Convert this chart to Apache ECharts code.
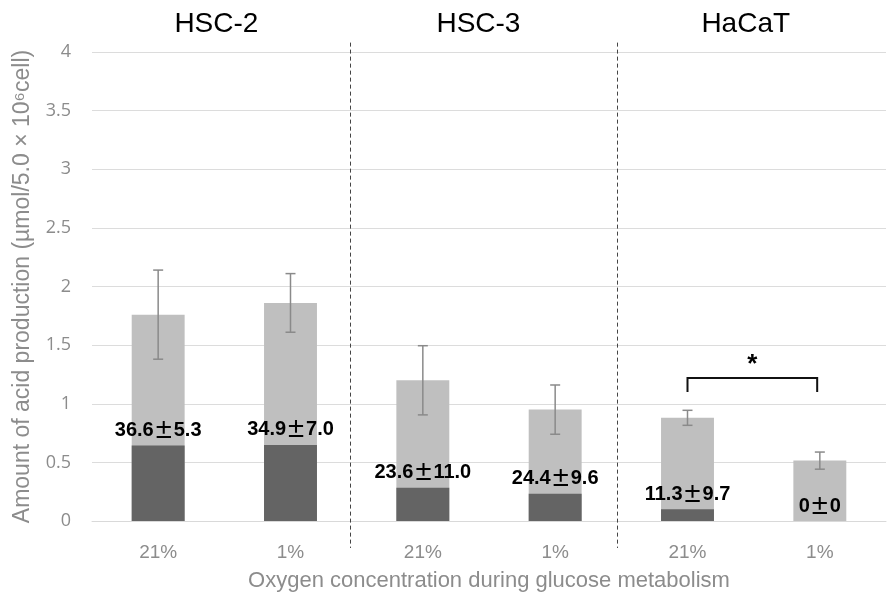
<!DOCTYPE html>
<html>
<head>
<meta charset="utf-8">
<script src="https://cdn.jsdelivr.net/npm/echarts@6/dist/echarts.min.js"></script>
<style>
  html, body { margin: 0; padding: 0; background: #ffffff; }
  #chart { width: 889px; height: 598px; }
</style>
</head>
<body>
<div id="chart"></div>
<script>
// Oxygen concentration per bar, grouped by cell line (two bars per line)
const categories = ['21%', '1%', '21%', '1%', '21%', '1%'];
const cellLines = ['HSC-2', 'HSC-3', 'HaCaT'];

// Total acid production (µmol / 5.0×10^6 cells) and its SD
const totalAcid = [1.76, 1.86, 1.20, 0.95, 0.88, 0.515];
const totalSD = [0.38, 0.25, 0.295, 0.21, 0.064, 0.073];

// Share of the total that is lactate (%) and its SD
const lactatePct = [36.6, 34.9, 23.6, 24.4, 11.3, 0];
const lactatePctSD = [5.3, 7.0, 11.0, 9.6, 9.7, 0];

// y axis ticks
const yTicks = [0, 0.5, 1, 1.5, 2, 2.5, 3, 3.5, 4];

// Lactate part of each bar, derived from the stated percentage
const lactateAcid = totalAcid.map((t, i) => t * lactatePct[i] / 100);

const pctLabel = (i) => lactatePct[i] === 0
  ? '{n|0}{pm|±}{n|0}'
  : '{n|' + lactatePct[i].toFixed(1) + '}{pm|±}{n|' + lactatePctSD[i].toFixed(1) + '}';

// Layout helpers (positions on the hidden index axis, -0.5 .. 5.5)
const groupTitleX = [0.44, 2.42, 4.44];
const separatorX = [1.45, 3.47];
const bracket = { from: 4, to: 4.98, top: 1.22, leg: 1.1, star: 1.33 };

const GRAY_TEXT = '#8c8c8c';
const chart = echarts.init(document.getElementById('chart'));

chart.setOption({
  animation: false,
  backgroundColor: '#ffffff',
  grid: { left: 92, right: 3, top: 52, bottom: 77, outerBoundsMode: 'none', containLabel: false },
  xAxis: [
    {
      type: 'category',
      data: categories,
      axisLine: { show: true, lineStyle: { color: '#d9d9d9', width: 1 } },
      axisTick: { show: false },
      axisLabel: { fontSize: 19, color: GRAY_TEXT, margin: 22, fontFamily: 'Liberation Sans' },
      name: 'Oxygen concentration during glucose metabolism',
      nameLocation: 'middle',
      nameGap: 49,
      nameTextStyle: { fontSize: 22, color: GRAY_TEXT, fontFamily: 'Liberation Sans' }
    },
    {
      type: 'value', min: -0.5, max: 5.5, show: false,
      splitLine: { show: false }
    }
  ],
  yAxis: {
    type: 'value',
    min: yTicks[0],
    max: yTicks[yTicks.length - 1],
    interval: yTicks[1] - yTicks[0],
    axisLine: { show: false },
    axisTick: { show: false },
    splitLine: { lineStyle: { color: '#dcdcdc', width: 1 } },
    axisLabel: { fontSize: 18, color: GRAY_TEXT, margin: 21, fontFamily: 'Open Sans' },
    name: 'Amount of acid production (µmol/5.0 × 10⁶cell)',
    nameLocation: 'middle',
    nameGap: 58,
    nameTextStyle: { fontSize: 23, color: GRAY_TEXT, fontFamily: 'Liberation Sans' }
  },
  series: [
    {
      name: 'Total acid',
      type: 'bar',
      data: totalAcid,
      barWidth: '40%',
      itemStyle: { color: '#bfbfbf' },
      z: 2
    },
    {
      name: 'Lactic acid',
      type: 'bar',
      data: lactateAcid,
      barWidth: '40%',
      barGap: '-100%',
      itemStyle: { color: '#646464' },
      z: 3,
      label: {
        show: true,
        position: 'top',
        distance: 5,
        color: '#000000',
        formatter: (p) => pctLabel(p.dataIndex),
        rich: {
          n: { fontSize: 20, fontWeight: 'bold', fontFamily: 'Liberation Sans', color: '#000000' },
          pm: { fontSize: 20, fontWeight: 'bold', fontFamily: 'Noto Sans CJK JP', color: '#000000' }
        }
      }
    },
    {
      name: 'SD',
      type: 'custom',
      z: 4,
      data: totalAcid.map((v, i) => [i, v - totalSD[i], v + totalSD[i]]),
      renderItem: (params, api) => {
        const lo = api.coord([api.value(0), api.value(1)]);
        const hi = api.coord([api.value(0), api.value(2)]);
        const w = 5;
        const style = { stroke: '#8a8a8a', lineWidth: 1.5 };
        return {
          type: 'group',
          children: [
            { type: 'line', shape: { x1: lo[0], y1: lo[1], x2: hi[0], y2: hi[1] }, style },
            { type: 'line', shape: { x1: hi[0] - w, y1: hi[1], x2: hi[0] + w, y2: hi[1] }, style },
            { type: 'line', shape: { x1: lo[0] - w, y1: lo[1], x2: lo[0] + w, y2: lo[1] }, style }
          ]
        };
      }
    },
    {
      name: 'Separators',
      type: 'custom',
      xAxisIndex: 1,
      z: 5,
      data: separatorX.map((x) => [x, 4.08, -0.23]),
      renderItem: (params, api) => {
        const a = api.coord([api.value(0), api.value(1)]);
        const b = api.coord([api.value(0), api.value(2)]);
        const x = Math.round(a[0]) + 0.5;
        return {
          type: 'line',
          shape: { x1: x, y1: a[1], x2: x, y2: b[1] },
          style: { stroke: '#444444', lineWidth: 1, lineDash: [4, 3] }
        };
      }
    },
    {
      name: 'Cell lines',
      type: 'custom',
      xAxisIndex: 1,
      z: 5,
      data: cellLines.map((t, i) => [groupTitleX[i], 4.236]),
      renderItem: (params, api) => {
        const p = api.coord([api.value(0), api.value(1)]);
        return {
          type: 'text',
          x: p[0], y: p[1],
          style: {
            text: cellLines[params.dataIndex],
            fontSize: 28,
            fontFamily: 'Liberation Sans',
            fill: '#000000',
            align: 'center',
            verticalAlign: 'middle'
          }
        };
      }
    },
    {
      name: 'Significance',
      type: 'custom',
      xAxisIndex: 1,
      z: 5,
      data: [[bracket.from, bracket.to, bracket.top, bracket.leg, bracket.star]],
      renderItem: (params, api) => {
        const p1 = api.coord([api.value(0), api.value(3)]);
        const p2 = api.coord([api.value(0), api.value(2)]);
        const p3 = api.coord([api.value(1), api.value(2)]);
        const p4 = api.coord([api.value(1), api.value(3)]);
        const s = api.coord([(api.value(0) + api.value(1)) / 2, api.value(4)]);
        return {
          type: 'group',
          children: [
            {
              type: 'polyline',
              shape: { points: [p1, p2, p3, p4] },
              style: { stroke: '#111111', lineWidth: 2, fill: null }
            },
            {
              type: 'text',
              x: s[0], y: s[1],
              style: {
                text: '*', fontSize: 26, fontWeight: 'bold',
                fontFamily: 'Liberation Sans', fill: '#000000',
                align: 'center', verticalAlign: 'middle'
              }
            }
          ]
        };
      }
    }
  ]
});
</script>
</body>
</html>
